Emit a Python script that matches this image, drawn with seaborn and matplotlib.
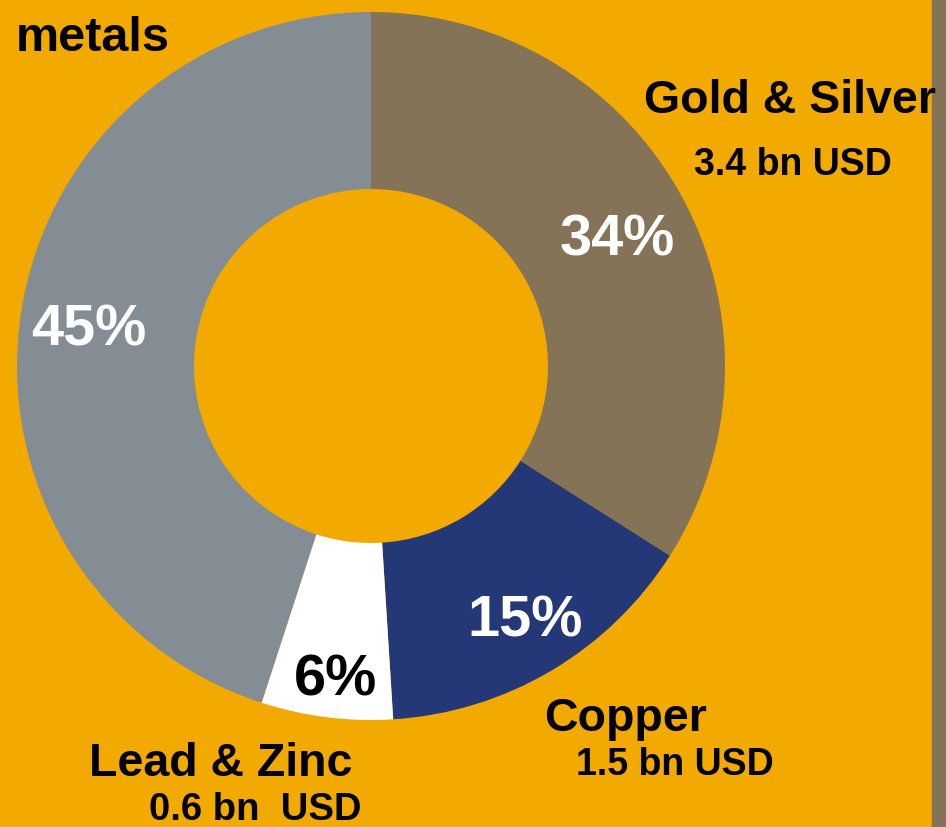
import matplotlib.pyplot as plt
import seaborn as sns

sns.set_theme(style="white")
plt.rcParams['font.family'] = ['Liberation Sans', 'DejaVu Sans']

# data
segments = ['Gold & Silver', 'Copper', 'Lead & Zinc', 'Other metals']
shares = [34, 15, 6, 45]
values_bn = [3.4, 1.5, 0.6, None]
pct_labels = ['34%', '15%', '6%', '45%']
colors = ['#857357', '#243777', '#FFFFFF', '#858D94']
bg = '#F2A900'

W, H = 946, 828
fig = plt.figure(figsize=(W / 100, H / 100), dpi=100, facecolor=bg)
ax = fig.add_axes([0, 0, 1, 1])
ax.set_facecolor(bg)

cx, cy, r = 371, H - 367, 354
ax.pie(shares, colors=colors, startangle=90, counterclock=False,
       center=(cx, cy), radius=r, frame=True,
       wedgeprops=dict(width=r / 2, linewidth=0))
ax.set_xlim(0, W)
ax.set_ylim(0, H)
ax.set_aspect('equal')
ax.axis('off')

# right-edge strip (behind the text)
ax.add_patch(plt.Rectangle((932, 0), 14, H, color='#857357', zorder=0.5, clip_on=False))

def px(x, y, s, size, color='black'):
    # x = left edge, y = baseline, in pixels from top
    ax.text(x, H - y, s, fontsize=size, fontweight='bold', color=color,
            ha='left', va='baseline', zorder=5)

# percentages
px(560, 255, pct_labels[0], 41.5, 'white')
px(467, 637, pct_labels[1], 41.5, 'white')
px(294, 696, pct_labels[2], 41.5, 'black')
px(31, 346, pct_labels[3], 41.5, 'white')

# category labels
px(644, 113, segments[0], 33.5)
px(694, 175, f'{values_bn[0]} bn USD', 27)
px(544, 731, segments[1], 33.5)
px(576, 775, f'{values_bn[1]} bn USD', 27)
px(89, 776, segments[2], 33.5)
px(149, 820, f'{values_bn[2]} bn  USD', 27.5)
px(16, 51, 'metals', 35)

fig.savefig('out.png', dpi=100, facecolor=bg)
